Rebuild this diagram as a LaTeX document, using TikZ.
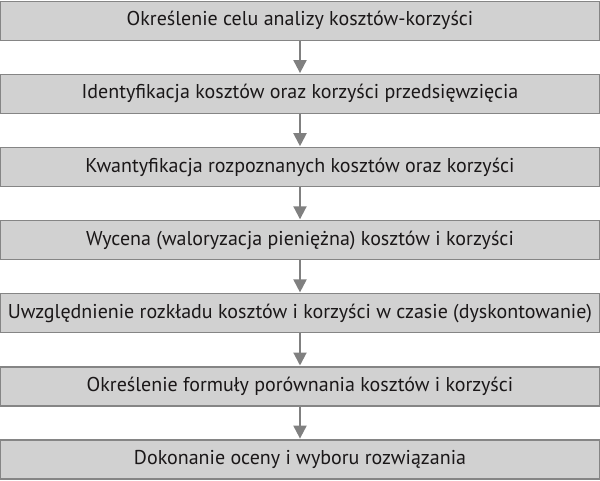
\documentclass[tikz,border=0pt]{standalone}
\usepackage{fontspec}
\setmainfont{PT Sans}
\usetikzlibrary{arrows.meta}
\definecolor{boxgray}{HTML}{D1D1D1}
\definecolor{bordergray}{HTML}{858585}
\definecolor{arrowgray}{HTML}{808080}
\definecolor{textdark}{HTML}{1A1718}
\begin{document}
\begin{tikzpicture}[x=1pt,y=-1pt,
  stepbox/.style={draw=bordergray, fill=boxgray, line width=1.5pt,
    minimum width=599pt, minimum height=39pt, inner sep=0pt, anchor=north,
    text=textdark, font=\fontsize{20}{22}\selectfont},
  flowarrow/.style={draw=arrowgray, line width=2pt,
    -{Triangle[width=13pt,length=13pt]}, shorten >=0.5pt}]
\useasboundingbox (0,0) rectangle (600,480);
\node[stepbox] (b1) at (300,0.5)   {Określenie celu analizy kosztów-korzyści};
\node[stepbox] (b2) at (300,73.6)  {Identyfikacja kosztów oraz korzyści przedsięwzięcia};
\node[stepbox] (b3) at (300,146.7) {Kwantyfikacja rozpoznanych kosztów oraz korzyści};
\node[stepbox] (b4) at (300,219.8) {Wycena (waloryzacja pieniężna) kosztów i korzyści};
\node[stepbox] (b5) at (300,292.9) {Uwzględnienie rozkładu kosztów i korzyści w czasie (dyskontowanie)};
\node[stepbox] (b6) at (300,366)   {Określenie formuły porównania kosztów i korzyści};
\node[stepbox] (b7) at (300,439.1) {Dokonanie oceny i wyboru rozwiązania};
\draw[flowarrow] (b1.south) -- (b2.north);
\draw[flowarrow] (b2.south) -- (b3.north);
\draw[flowarrow] (b3.south) -- (b4.north);
\draw[flowarrow] (b4.south) -- (b5.north);
\draw[flowarrow] (b5.south) -- (b6.north);
\draw[flowarrow] (b6.south) -- (b7.north);
\end{tikzpicture}
\end{document}
